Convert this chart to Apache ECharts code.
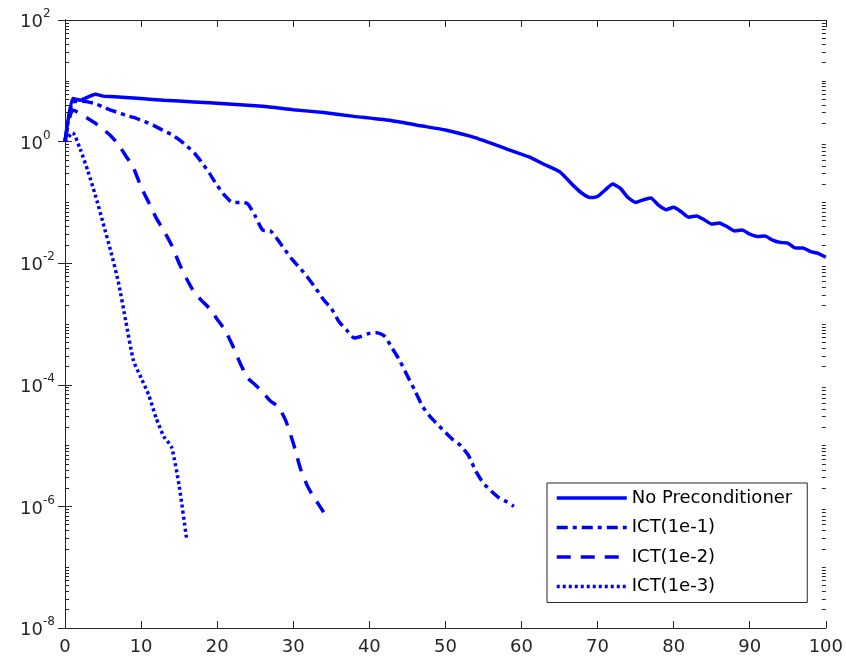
<!DOCTYPE html>
<html>
<head>
<meta charset="utf-8">
<script src="https://cdn.jsdelivr.net/npm/echarts@6/dist/echarts.min.js"></script>
<style>
  html, body { margin: 0; padding: 0; background: #fff; }
  #chart { width: 846px; height: 658px; }
</style>
</head>
<body>
<div id="chart"></div>
<script>
// residual norm vs. iteration
const seriesNames = ['No Preconditioner', 'ICT(1e-1)', 'ICT(1e-2)', 'ICT(1e-3)']

const noPrecIter = [0, 1, 2, 3, 4, 5, 6, 8, 10, 13, 17, 21, 26, 30, 34, 38, 43, 47, 50, 54, 58, 61, 63, 65, 67, 68, 69, 70, 71, 72, 73, 74, 75, 76, 77, 78, 79, 80, 81, 82, 83, 84, 85, 86, 87, 88, 89, 90, 91, 92, 93, 94, 95, 96, 97, 98, 99, 100]
const noPrecRes = [1, 5.1, 4.8, 5.4, 6.0, 5.6, 5.5, 5.3, 5.1, 4.8, 4.5, 4.2, 3.8, 3.35, 3.0, 2.6, 2.2, 1.8, 1.55, 1.15, 0.76, 0.56, 0.42, 0.32, 0.18, 0.14, 0.12, 0.125, 0.16, 0.2, 0.17, 0.12, 0.1, 0.11, 0.118, 0.09, 0.076, 0.083, 0.07, 0.057, 0.06, 0.052, 0.044, 0.046, 0.04, 0.034, 0.035, 0.03, 0.0275, 0.028, 0.024, 0.022, 0.0214, 0.0178, 0.0178, 0.0155, 0.0145, 0.0125]

const ict1Res = [1, 4.5, 4.6, 4.5, 4.2, 3.7, 3.3, 3.0, 2.7, 2.5, 2.25, 2.0, 1.75, 1.5, 1.3, 1.08, 0.85, 0.65, 0.45, 0.3, 0.19, 0.13, 0.1, 0.1, 0.095, 0.06, 0.035, 0.034, 0.024, 0.016, 0.011, 0.008, 0.0056, 0.0038, 0.0025, 0.0018, 0.0011, 8e-4, 5.9e-4, 6.3e-4, 7e-4, 7.2e-4, 6.3e-4, 4e-4, 2.5e-4, 1.4e-4, 8e-5, 4.4e-5, 3e-5, 2.2e-5, 1.65e-5, 1.25e-5, 1e-5, 7e-6, 3.8e-6, 2.4e-6, 1.8e-6, 1.4e-6, 1.2e-6, 1e-6]

const ict2Res = [1, 3.3, 2.9, 2.4, 2.0, 1.6, 1.25, 0.9, 0.58, 0.37, 0.18, 0.1, 0.055, 0.034, 0.02, 0.01, 0.0055, 0.0033, 0.0024, 0.0018, 0.0012, 8e-4, 4.5e-4, 2.3e-4, 1.3e-4, 1e-4, 7.5e-5, 5.4e-5, 4.4e-5, 2.6e-5, 1.1e-5, 4e-6, 2e-6, 1.25e-6, 8e-7]

const ict3Res = [1, 1.4, 0.75, 0.33, 0.13, 0.046, 0.016, 0.005, 0.0011, 2.5e-4, 1.3e-4, 6.8e-5, 2.8e-5, 1.4e-5, 9.5e-6, 2.2e-6, 2.8e-7]

const xTicks = [0, 10, 20, 30, 40, 50, 60, 70, 80, 90, 100]
const yExponents = [-8, -6, -4, -2, 0, 2]

// log minor ticks (2..9 x 10^k, plus the odd decades), like matlab draws them
const yMinorTicks = []
for (let k = -8; k < 2; k++) {
  for (let m = 1; m <= 9; m++) {
    if (m === 1 && k % 2 === 0) continue
    yMinorTicks.push(m * Math.pow(10, k))
  }
}

const BLUE = '#0000ff'
const INK = '#262626'
const FONT = 'DejaVu Sans, sans-serif'

const pairs = (xs, ys) => ys.map((v, i) => [xs ? xs[i] : i, v])

const chart = echarts.init(document.getElementById('chart'))

const axisFont = { fontFamily: FONT, fontSize: 18, color: INK }

const yAxisBase = {
  type: 'log',
  logBase: 10,
  min: 1e-8,
  max: 1e2,
  interval: 2,
  splitLine: { show: false },
}

const option = {
  animation: false,
  backgroundColor: '#fff',
  grid: { left: 65, right: 20, top: 20, bottom: 30, containLabel: false },
  legend: {
    orient: 'vertical',
    left: 547,
    top: 483,
    padding: [6, 15, 7, 8],
    itemGap: 11.5,
    itemWidth: 70,
    itemHeight: 14,
    borderColor: INK,
    borderWidth: 1,
    borderRadius: 0,
    backgroundColor: '#fff',
    itemStyle: { opacity: 0 },
    lineStyle: { width: 3.5 },
    textStyle: { fontFamily: FONT, fontSize: 18, lineHeight: 18, color: '#000' },
    data: seriesNames,
  },
  xAxis: [
    {
      type: 'value',
      min: 0,
      max: 100,
      interval: 10,
      axisLine: { lineStyle: { color: INK, width: 1 } },
      axisTick: { inside: true, length: 7, lineStyle: { color: INK } },
      axisLabel: { ...axisFont, margin: 10, formatter: v => xTicks.includes(v) ? String(v) : '' },
      splitLine: { show: false },
    },
    {
      type: 'value',
      position: 'top',
      min: 0,
      max: 100,
      interval: 10,
      axisLine: { lineStyle: { color: INK, width: 1 } },
      axisTick: { inside: true, length: 7, lineStyle: { color: INK } },
      axisLabel: { show: false },
      splitLine: { show: false },
    },
  ],
  yAxis: [
    {
      ...yAxisBase,
      position: 'left',
      axisLine: { lineStyle: { color: INK, width: 1 } },
      axisTick: { inside: true, length: 7, lineStyle: { color: INK } },
      axisLabel: {
        margin: 45,
        align: 'left',
        formatter: v => {
          const e = Math.round(Math.log10(v))
          return yExponents.includes(e) ? '{b|10}{s|' + e + '}' : ''
        },
        rich: {
          b: { ...axisFont, padding: [5, 0, 0, 0] },
          s: { fontFamily: FONT, fontSize: 12, color: INK, padding: [0, 0, 12, 0] },
        },
      },
    },
    {
      ...yAxisBase,
      position: 'right',
      axisLine: { lineStyle: { color: INK, width: 1 } },
      axisTick: { inside: true, length: 7, lineStyle: { color: INK } },
      axisLabel: { show: false },
    },
    {
      ...yAxisBase,
      position: 'left',
      axisLine: { show: false },
      axisTick: { inside: true, length: 4, customValues: yMinorTicks, lineStyle: { color: INK } },
      axisLabel: { show: false },
    },
    {
      ...yAxisBase,
      position: 'right',
      axisLine: { show: false },
      axisTick: { inside: true, length: 4, customValues: yMinorTicks, lineStyle: { color: INK } },
      axisLabel: { show: false },
    },
  ],
  series: [
    {
      name: seriesNames[0],
      type: 'line',
      data: pairs(noPrecIter, noPrecRes),
      showSymbol: false,
      symbol: 'none',
      smooth: 0.15,
      lineStyle: { color: BLUE, width: 3.5 },
      itemStyle: { color: BLUE },
    },
    {
      name: seriesNames[1],
      type: 'line',
      data: pairs(null, ict1Res),
      showSymbol: false,
      symbol: 'none',
      smooth: 0.2,
      lineStyle: { color: BLUE, width: 3.5, type: [11, 5, 4, 5] },
      itemStyle: { color: BLUE },
    },
    {
      name: seriesNames[2],
      type: 'line',
      data: pairs(null, ict2Res),
      showSymbol: false,
      symbol: 'none',
      smooth: 0.2,
      lineStyle: { color: BLUE, width: 3.5, type: [14, 10] },
      itemStyle: { color: BLUE },
    },
    {
      name: seriesNames[3],
      type: 'line',
      data: pairs(null, ict3Res),
      showSymbol: false,
      symbol: 'none',
      smooth: 0.2,
      lineStyle: { color: BLUE, width: 3.5, type: [3, 3] },
      itemStyle: { color: BLUE },
    },
  ],
}

chart.setOption(option)
</script>
</body>
</html>
